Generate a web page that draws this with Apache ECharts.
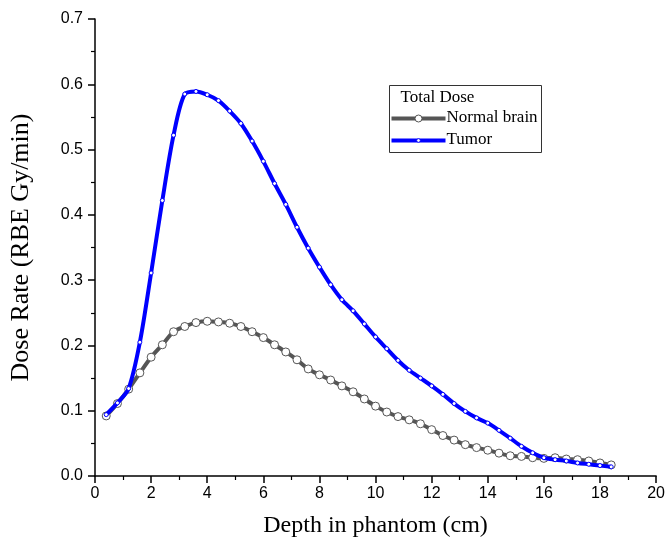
<!DOCTYPE html>
<html><head><meta charset="utf-8">
<script src="https://cdn.jsdelivr.net/npm/echarts@6/dist/echarts.min.js"></script>
<style>html,body{margin:0;padding:0;background:#fff}#c{width:668px;height:543px}</style>
</head><body><div id="c"></div>
<script>
const depth = [0.4,0.8,1.2,1.6,2.0,2.4,2.8,3.2,3.6,4.0,4.4,4.8,5.2,5.6,6.0,6.4,6.8,7.2,7.6,8.0,8.4,8.8,9.2,9.6,10.0,10.4,10.8,11.2,11.6,12.0,12.4,12.8,13.2,13.6,14.0,14.4,14.8,15.2,15.6,16.0,16.4,16.8,17.2,17.6,18.0,18.4];
const normalBrain = [0.092,0.111,0.133,0.158,0.182,0.201,0.221,0.229,0.235,0.237,0.236,0.234,0.229,0.221,0.212,0.201,0.190,0.178,0.164,0.155,0.147,0.138,0.129,0.118,0.107,0.098,0.091,0.086,0.080,0.071,0.062,0.055,0.048,0.0435,0.0395,0.035,0.031,0.030,0.028,0.027,0.028,0.026,0.025,0.023,0.020,0.017];
const tumor = [0.094,0.112,0.134,0.205,0.311,0.422,0.522,0.585,0.589,0.584,0.575,0.559,0.540,0.513,0.482,0.448,0.416,0.381,0.349,0.320,0.293,0.270,0.253,0.233,0.213,0.195,0.177,0.162,0.150,0.138,0.125,0.111,0.099,0.089,0.081,0.070,0.058,0.0455,0.0355,0.028,0.025,0.023,0.020,0.018,0.016,0.014];
const seriesNames = ['Normal brain','Tumor'];
const legendTitle = 'Total Dose';
const xTitle = 'Depth in phantom (cm)';
const yTitle = 'Dose Rate (RBE Gy/min)';

const serif = 'Liberation Serif';
const sans = 'Liberation Sans';
const grey = '#555555', blue = '#0000ff';
const chart = echarts.init(document.getElementById('c'));
const pair = (xs, ys) => xs.map((x,i)=>[x, ys[i]]);
const LX = 389.5, LY = 85.5;
const lf = '17px "Liberation Serif"';
chart.setOption({
  animation:false,
  grid:{left:86,right:11,top:19,bottom:63,containLabel:false},
  xAxis:{type:'value',min:0,max:20,interval:2,
    name:xTitle,nameLocation:'middle',nameGap:38,
    nameTextStyle:{fontFamily:serif,fontSize:24,color:'#000'},
    axisLine:{onZero:false,lineStyle:{color:'#000',width:1.5}},
    axisTick:{inside:false,length:7,lineStyle:{color:'#000',width:1.5}},
    minorTick:{show:true,splitNumber:2,length:4,lineStyle:{color:'#000',width:1.2}},
    axisLabel:{fontFamily:sans,fontSize:16,color:'#000',margin:10},
    splitLine:{show:false}},
  yAxis:{type:'value',min:0,max:0.7,interval:0.1,
    name:yTitle,nameLocation:'middle',nameGap:61,nameRotate:90,
    nameTextStyle:{fontFamily:serif,fontSize:26,color:'#000'},
    axisLine:{show:true,lineStyle:{color:'#000',width:1.5}},
    axisTick:{show:true,inside:false,length:7,lineStyle:{color:'#000',width:1.5}},
    minorTick:{show:true,splitNumber:2,length:4,lineStyle:{color:'#000',width:1.2}},
    axisLabel:{fontFamily:sans,fontSize:16,color:'#000',margin:12,formatter:v=>v.toFixed(1)},
    splitLine:{show:false}},
  legend:{show:false,data:seriesNames},
  graphic:[
    {type:'rect',shape:{x:LX,y:LY,width:152,height:67},style:{fill:'#fff',stroke:'#333',lineWidth:1},z:10},
    {type:'text',x:LX+11,y:LY+4,style:{text:legendTitle,font:lf,fill:'#000'},z:11},
    {type:'line',shape:{x1:LX+2,y1:LY+33,x2:LX+56,y2:LY+33},style:{stroke:grey,lineWidth:4},z:11},
    {type:'circle',shape:{cx:LX+29,cy:LY+33,r:3.5},style:{fill:'#fff',stroke:grey,lineWidth:1},z:12},
    {type:'text',x:LX+57,y:LY+24,style:{text:seriesNames[0],font:lf,fill:'#000'},z:11},
    {type:'line',shape:{x1:LX+2,y1:LY+55,x2:LX+56,y2:LY+55},style:{stroke:blue,lineWidth:4},z:11},
    {type:'circle',shape:{cx:LX+29,cy:LY+55,r:1.8},style:{fill:'#fff',stroke:blue,lineWidth:0.8},z:12},
    {type:'text',x:LX+57,y:LY+46,style:{text:seriesNames[1],font:lf,fill:'#000'},z:11}
  ],
  series:[
    {name:seriesNames[0],type:'line',data:pair(depth,normalBrain),smooth:0.3,
      lineStyle:{color:grey,width:4},itemStyle:{color:'#fff',borderColor:grey,borderWidth:1},
      color:grey,symbol:'circle',symbolSize:8,z:2},
    {name:seriesNames[1],type:'line',data:pair(depth,tumor),smooth:0.3,
      lineStyle:{color:blue,width:4},itemStyle:{color:'#fff',borderColor:blue,borderWidth:1},
      color:blue,symbol:'circle',symbolSize:4,z:3}
  ]
});
</script></body></html>
